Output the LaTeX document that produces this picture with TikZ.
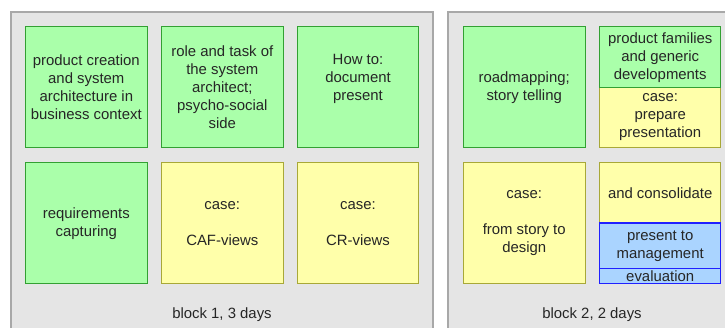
\documentclass[tikz,border=0pt]{standalone}
\usepackage{fontspec}
\setmainfont{Liberation Sans}
\definecolor{bgfill}{HTML}{E5E5E5}
\definecolor{bgline}{HTML}{A8A8A8}
\definecolor{gfill}{HTML}{AAFFAA}
\definecolor{gline}{HTML}{33A033}
\definecolor{yfill}{HTML}{FFFFAA}
\definecolor{yline}{HTML}{A8A838}
\definecolor{bfill}{HTML}{AAD4FF}
\definecolor{bline}{HTML}{2020FF}
\begin{document}
\begin{tikzpicture}[x=1pt,y=-1pt,
  every node/.style={font=\fontsize{14.9}{18}\selectfont, text=black!85, inner sep=0pt},
  block/.style={fill=bgfill, draw=bgline, line width=1.5pt},
  gbox/.style={fill=gfill, draw=gline, line width=1pt},
  ybox/.style={fill=yfill, draw=yline, line width=1pt},
  bbox/.style={fill=bfill, draw=bline, line width=1.5pt},
  txt/.style={align=center}]
\useasboundingbox (0,0) rectangle (725,327);
% backgrounds
\path[block] (11,12) -- (433,12) -- (433,335) -- (11,335) -- cycle;
\path[block] (448,12) -- (735,12) -- (735,335) -- (448,335) -- cycle;
\clip (0,0) rectangle (725,327);
\path[fill=bgfill] (11.75,300) rectangle (432.25,327);
\path[fill=bgfill] (448.75,300) rectangle (725,327);
% block 1 top row
\path[gbox] (25.7,26.7) rectangle (147,147.7);
\node[txt] (pc) at (86.3,87.2) {product creation\\and system\\architecture in\\business context};
\path[gbox] (161.7,26.7) rectangle (283,147.7);
\node[txt] (ro) at (222.3,87.2) {role and task of\\the system\\architect;\\psycho-social\\side};
\path[gbox] (297.3,26.7) rectangle (418.7,147.7);
\node[txt] (ht) at (358,79.2) {How to:\\document\\present};
% block 1 bottom row
\path[gbox] (25.7,162.7) rectangle (147,283.7);
\node[txt] (rq) at (86.3,223.2) {requirements\\capturing};
\path[ybox] (161.7,162.7) rectangle (283,283.7);
\node[txt] (caf) at (222.3,223.2) {case:\\[18pt]CAF-views};
\path[ybox] (297.3,162.7) rectangle (418.7,283.7);
\node[txt] (cr) at (358,223.2) {case:\\[18pt]CR-views};
\node (b1) at (222,314.5) {block 1, 3 days};
% block 2 top row
\path[gbox] (463.3,26.7) rectangle (585,147.7);
\node[txt] (rm) at (524.2,88) {roadmapping;\\story telling};
\path[ybox] (599.7,87.7) rectangle (720.7,147.7);
\path[gbox] (599.7,26.7) rectangle (720.7,87.7);
\node[txt] (pf) at (660.2,57.2) {product families\\and generic\\developments};
\node[txt] (pp) at (660.2,117.5) {case:\\prepare\\presentation};
% block 2 bottom row
\path[ybox] (463.3,162.7) rectangle (585,283.7);
\node[txt] (fs) at (524.2,223.2) {case:\\[18pt]from story to\\design};
\path[ybox] (599.7,162.7) rectangle (720.7,223);
\node[txt] (co) at (660.2,193) {and consolidate};
\path[bbox] (599.7,223) rectangle (720.7,268.3);
\node[txt] (pm) at (660.2,246) {present to\\management};
\path[bbox] (599.7,268.3) rectangle (720.7,283.7);
\node[txt] (ev) at (660.2,276) {evaluation};
\node (b2) at (592,314.5) {block 2, 2 days};
\end{tikzpicture}
\end{document}
